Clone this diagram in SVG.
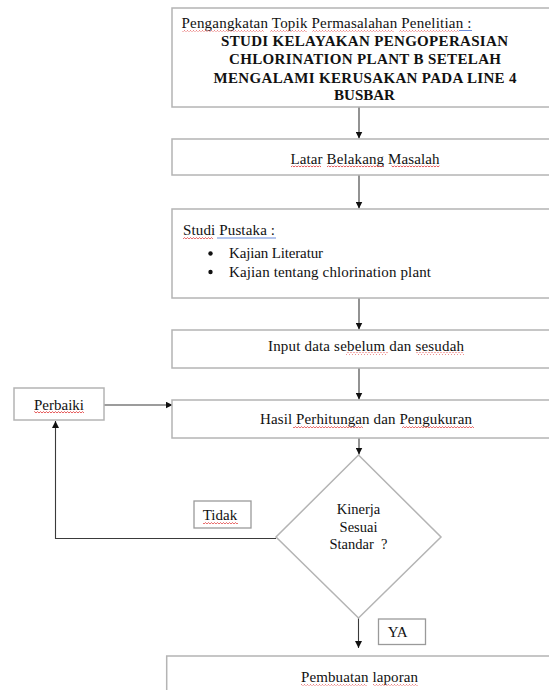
<svg xmlns="http://www.w3.org/2000/svg" width="549" height="690" viewBox="0 0 549 690">
<style>
.box{fill:#fff;stroke:#b4b4b4;stroke-width:1.5}
.sbox{fill:#fff;stroke:#9a9a9a;stroke-width:1.3}
.t{font-family:"Liberation Serif","Times New Roman",serif;font-size:15px;fill:#111}
.d{font-family:"Liberation Serif","Times New Roman",serif;font-size:14.5px;fill:#111}
.b{font-family:"Liberation Serif","Times New Roman",serif;font-size:15px;font-weight:bold;fill:#111}
.c{text-anchor:middle}
.conn line,.conn polyline{stroke:#3a3a3a;stroke-width:1.1;fill:none}
.gr{fill:none;stroke:#5a7fd8;stroke-width:0.9}
</style>
<defs>
<marker id="ah" viewBox="0 0 10 10" refX="10" refY="5" markerWidth="7" markerHeight="7" markerUnits="userSpaceOnUse" orient="auto">
<path d="M0,0 L10,5 L0,10 Z" fill="#111"/>
</marker>
<pattern id="wave" width="3" height="3" patternUnits="userSpaceOnUse">
<path d="M0,2 L1.5,0.6 L3,2" fill="none" stroke="#e03030" stroke-width="0.8"/>
</pattern>
</defs>

<g id="connectors" class="conn">
<line x1="359" y1="107" x2="359" y2="138.5" marker-end="url(#ah)"/>
<line x1="359" y1="175" x2="359" y2="208.5" marker-end="url(#ah)"/>
<line x1="359" y1="298" x2="359" y2="329.5" marker-end="url(#ah)"/>
<line x1="359" y1="368" x2="359" y2="399.5" marker-end="url(#ah)"/>
<line x1="359" y1="438" x2="359" y2="454.5" marker-end="url(#ah)"/>
<line x1="358.5" y1="618" x2="358.5" y2="648" marker-end="url(#ah)"/>
<line x1="104" y1="405" x2="172.5" y2="405" marker-end="url(#ah)"/>
<polyline points="276,538.5 55.5,538.5 55.5,421" marker-end="url(#ah)"/>
</g>

<g id="n1">
<rect class="box" x="172" y="8" width="390" height="99"/>
<text class="t" x="181.5" y="27.5" textLength="290" lengthAdjust="spacing">Pengangkatan Topik Permasalahan Penelitian :</text>
<rect x="182" y="29" width="82" height="2.4" fill="url(#wave)"/>
<rect x="270" y="29" width="37" height="2.4" fill="url(#wave)"/>
<rect x="312" y="29" width="82" height="2.4" fill="url(#wave)"/>
<rect x="399" y="29" width="60" height="2.4" fill="url(#wave)"/>
<line class="gr" x1="459" y1="30.5" x2="472" y2="30.5"/>
<text class="b c" x="364.5" y="45.5" textLength="287" lengthAdjust="spacing">STUDI KELAYAKAN PENGOPERASIAN</text>
<text class="b c" x="365" y="64" textLength="272" lengthAdjust="spacing">CHLORINATION PLANT B SETELAH</text>
<text class="b c" x="365" y="82.5" textLength="303" lengthAdjust="spacing">MENGALAMI KERUSAKAN PADA LINE 4</text>
<text class="b c" x="364.5" y="100">BUSBAR</text>
</g>

<g id="n2">
<rect class="box" x="172" y="139" width="390" height="36"/>
<text class="t c" x="365" y="164" textLength="149" lengthAdjust="spacing">Latar Belakang Masalah</text>
<rect x="291" y="165.5" width="30" height="2.4" fill="url(#wave)"/>
<rect x="327" y="165.5" width="57" height="2.4" fill="url(#wave)"/>
<rect x="391" y="165.5" width="49" height="2.4" fill="url(#wave)"/>
</g>

<g id="n3">
<rect class="box" x="172" y="209" width="390" height="89"/>
<text class="t" x="183" y="235" textLength="92" lengthAdjust="spacing">Studi Pustaka :</text>
<rect x="183" y="236.5" width="30" height="2.4" fill="url(#wave)"/>
<line class="gr" x1="217" y1="238" x2="276" y2="238"/>
<circle cx="210.5" cy="253.5" r="2.2" fill="#111"/>
<text class="t" x="229" y="258.3" textLength="94" lengthAdjust="spacing">Kajian Literatur</text>
<circle cx="210.5" cy="272" r="2.2" fill="#111"/>
<text class="t" x="229" y="276.7" textLength="202" lengthAdjust="spacing">Kajian tentang chlorination plant</text>
</g>

<g id="n4">
<rect class="box" x="172" y="330" width="390" height="38"/>
<text class="t c" x="366" y="351" textLength="196" lengthAdjust="spacing">Input data sebelum dan sesudah</text>
<rect x="346" y="352.5" width="42" height="2.4" fill="url(#wave)"/>
<rect x="416" y="352.5" width="48" height="2.4" fill="url(#wave)"/>
</g>

<g id="n5">
<rect class="box" x="172" y="400" width="390" height="38"/>
<text class="t c" x="366" y="424" textLength="212" lengthAdjust="spacing">Hasil Perhitungan dan Pengukuran</text>
<rect x="293" y="425.5" width="70" height="2.4" fill="url(#wave)"/>
<rect x="402" y="425.5" width="72" height="2.4" fill="url(#wave)"/>
</g>

<g id="n6">
<rect class="box" x="14" y="388" width="90" height="32"/>
<text class="t c" x="59" y="409.5">Perbaiki</text>
<rect x="34" y="411" width="50" height="2.4" fill="url(#wave)"/>
</g>

<g id="n7">
<polygon class="box" points="358.5,455 441,537 358.5,618 276,537"/>
<text class="d c" x="358.5" y="514">Kinerja</text>
<text class="d c" x="358.5" y="531.7">Sesuai</text>
<text class="d c" x="358.5" y="549" xml:space="preserve">Standar  ?</text>
</g>

<g id="n8">
<rect class="sbox" x="194" y="501" width="57" height="27"/>
<text class="t" x="202.7" y="520">Tidak</text>
<rect x="203" y="521.5" width="35" height="2.4" fill="url(#wave)"/>
</g>

<g id="n9">
<rect class="sbox" x="378.5" y="619" width="47" height="25.5"/>
<text class="t" x="387.7" y="636.7">YA</text>
</g>

<g id="n10">
<rect class="box" x="166.7" y="656" width="400" height="50"/>
<text class="t c" x="359.5" y="681.7" textLength="117" lengthAdjust="spacing">Pembuatan laporan</text>
<rect x="301" y="683" width="66" height="2.4" fill="url(#wave)"/>
<rect x="373" y="683" width="45" height="2.4" fill="url(#wave)"/>
</g>
</svg>
